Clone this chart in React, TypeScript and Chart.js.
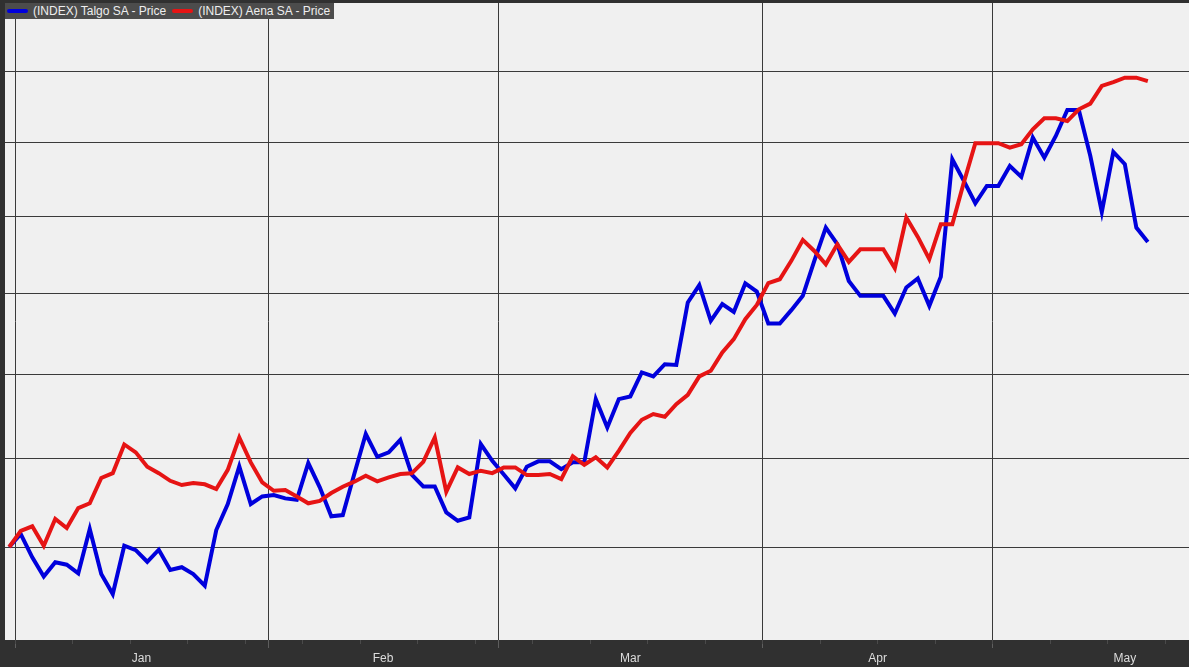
import React, { useEffect, useRef } from 'react';
import { Chart, registerables } from 'chart.js';

Chart.register(...registerables);

// Series names and colours
const seriesNames = ['(INDEX) Talgo SA - Price', '(INDEX) Aena SA - Price'];
const seriesColors = ['#0000dc', '#e61414'];

// Index values (base 100), one per trading day
const talgo = [
  100.0, 100.72, 99.43, 98.38, 99.16, 99.03, 98.56, 101.0, 98.52, 97.44,
  100.07, 99.83, 99.19, 99.85, 98.74, 98.89, 98.52, 97.89, 100.94, 102.4,
  104.55, 102.4, 102.83, 102.91, 102.72, 102.64, 104.74, 103.35, 101.71, 101.78,
  104.11, 106.43, 105.1, 105.36, 106.09, 104.07, 103.4, 103.4, 101.93, 101.46,
  101.65, 105.84, 104.87, 104.08, 103.29, 104.53, 104.84, 104.84, 104.39, 104.78,
  104.78, 108.5, 106.82, 108.5, 108.66, 110.11, 109.87, 110.61, 110.57, 114.44,
  115.54, 113.29, 114.34, 113.85, 115.65, 115.13, 113.12, 113.12, 113.96, 114.86,
  117.1, 119.27, 118.18, 115.81, 114.86, 114.86, 114.86, 113.75, 115.39, 115.97,
  114.23, 116.08, 123.85, 122.38, 120.88, 122.04, 122.04, 123.39, 122.65, 125.34,
  123.96, 125.45, 127.26, 127.26, 124.07, 120.3, 124.35, 123.51, 119.27, 118.33,
];

const aena = [
  100.0, 100.9, 101.15, 100.07, 101.56, 101.05, 102.17, 102.44, 103.88, 104.16,
  105.82, 105.36, 104.53, 104.16, 103.72, 103.48, 103.59, 103.52, 103.25, 104.35,
  106.23, 104.78, 103.63, 103.15, 103.19, 102.83, 102.44, 102.58, 103.02, 103.38,
  103.67, 104.01, 103.69, 103.92, 104.11, 104.15, 104.81, 106.23, 103.1, 104.49,
  104.11, 104.3, 104.16, 104.49, 104.49, 104.05, 104.05, 104.11, 103.82, 105.13,
  104.64, 105.07, 104.49, 105.45, 106.49, 107.27, 107.61, 107.45, 108.2, 108.76,
  109.87, 110.21, 111.33, 112.15, 113.39, 114.29, 115.67, 115.92, 117.1, 118.46,
  117.74, 116.88, 118.18, 117.03, 117.85, 117.85, 117.85, 116.63, 119.93, 118.66,
  117.21, 119.49, 119.49, 122.27, 124.95, 124.95, 124.95, 124.65, 124.88, 125.91,
  126.68, 126.68, 126.49, 127.31, 127.71, 128.96, 129.24, 129.55, 129.55, 129.31,
];

// Month axis (in trading-day index units)
const monthLabels = ['Jan', 'Feb', 'Mar', 'Apr', 'May'];
const monthStarts = [0.5, 22.5, 42.5, 65.5, 85.5];
const monthCenters = [11.5, 32.5, 54, 75.5, 97];
const weekTicks = [
  0.5, 5.5, 10.5, 15.5, 20.5, 25.5, 30.5, 35.5, 40.5, 45.5, 50.5,
  55.5, 60.5, 65.5, 70.5, 75.5, 80.5, 85.5, 90.5, 95.5, 100.5,
];
const xRange = [-0.37, 102.58];

// Value axis (log scale)
const yGrid = [100, 105, 110, 115, 120, 125, 130];
const yRange = [95, 135];

const bgPlugin = {
  id: 'bg',
  beforeDraw(chart: any) {
    const { ctx, chartArea, width, height } = chart;
    ctx.save();
    ctx.fillStyle = '#303030';
    ctx.fillRect(0, 0, width, height);
    ctx.fillStyle = '#f0f0f0';
    ctx.fillRect(chartArea.left, chartArea.top, chartArea.right - chartArea.left, chartArea.bottom - chartArea.top);
    ctx.restore();
  },
};

export default function App() {
  const ref = useRef<HTMLCanvasElement>(null);

  useEffect(() => {
    if (!ref.current) return;
    const chart = new Chart(ref.current, {
      type: 'line',
      data: {
        datasets: [
          {
            label: seriesNames[0],
            data: talgo.map((y, i) => ({ x: i, y })),
            borderColor: seriesColors[0],
            backgroundColor: seriesColors[0],
            borderWidth: 4,
            pointRadius: 0,
            tension: 0,
            order: 1,
          },
          {
            label: seriesNames[1],
            data: aena.map((y, i) => ({ x: i, y })),
            borderColor: seriesColors[1],
            backgroundColor: seriesColors[1],
            borderWidth: 4,
            pointRadius: 0,
            tension: 0,
            order: 0,
          },
        ],
      },
      options: {
        animation: false,
        responsive: false,
        devicePixelRatio: 1,
        events: [],
        layout: { padding: { left: 5, top: 3, right: 0, bottom: 0 } },
        plugins: { legend: { display: false }, tooltip: { enabled: false } },
        scales: {
          x: {
            type: 'linear',
            position: 'bottom',
            min: xRange[0],
            max: xRange[1],
            afterBuildTicks: (a: any) => {
              a.ticks = monthStarts.map((v) => ({ value: v }));
            },
            afterFit: (s: any) => {
              s.height = 0;
            },
            ticks: { display: false },
            grid: { color: '#3a3a3a', lineWidth: 1, drawTicks: true, tickLength: 8, tickColor: '#5e5e5e' },
            border: { display: false },
          },
          xw: {
            type: 'linear',
            position: 'bottom',
            min: xRange[0],
            max: xRange[1],
            afterBuildTicks: (a: any) => {
              a.ticks = weekTicks.map((v) => ({ value: v }));
            },
            afterFit: (s: any) => {
              s.height = 0;
            },
            ticks: { display: false },
            grid: { drawOnChartArea: false, drawTicks: true, tickLength: 4, tickColor: '#4a4a4a', lineWidth: 1 },
            border: { display: false },
          },
          xl: {
            type: 'linear',
            position: 'bottom',
            min: xRange[0],
            max: xRange[1],
            afterBuildTicks: (a: any) => {
              a.ticks = monthCenters.map((v) => ({ value: v }));
            },
            afterFit: (s: any) => {
              s.height = 27;
            },
            ticks: {
              autoSkip: false,
              maxRotation: 0,
              padding: 11,
              color: '#dcdcdc',
              font: { family: "'Liberation Sans Narrow', 'Arial Narrow', 'Liberation Sans', Arial", size: 12 },
              callback: (v: any) => {
                const idx = monthCenters.indexOf(Number(v));
                return idx >= 0 ? monthLabels[idx] : '';
              },
            },
            grid: { display: false, drawTicks: false },
            border: { display: false },
          },
          y: {
            type: 'logarithmic',
            min: yRange[0],
            max: yRange[1],
            afterBuildTicks: (a: any) => {
              a.ticks = yGrid.map((v) => ({ value: v }));
            },
            afterFit: (s: any) => {
              s.width = 0;
            },
            ticks: { display: false },
            grid: { color: '#3a3a3a', lineWidth: 1, drawTicks: false },
            border: { display: false },
          },
        },
      } as any,
      plugins: [bgPlugin],
    });
    return () => chart.destroy();
  }, []);

  return (
    <div style={{ position: 'fixed', left: 0, top: 0, width: 1189, height: 667, background: '#303030' }}>
      <canvas ref={ref} width={1189} height={667} style={{ display: 'block' }} />
      <div
        style={{
          position: 'absolute',
          left: 5,
          top: 3,
          height: 16,
          padding: '0 4px 0 2px',
          background: '#4c4c4c',
          display: 'flex',
          alignItems: 'center',
          fontFamily: "'Liberation Sans', Arial, sans-serif",
          fontSize: 12,
          color: '#eeeeee',
          whiteSpace: 'nowrap',
        }}
      >
        {seriesNames.map((name, i) => (
          <span key={name} style={{ display: 'flex', alignItems: 'center', marginRight: i === 0 ? 6 : 0 }}>
            <span style={{ display: 'inline-block', width: 21, height: 4, background: seriesColors[i], marginRight: 5, borderRadius: 2 }} />
            {name}
          </span>
        ))}
      </div>
    </div>
  );
}
